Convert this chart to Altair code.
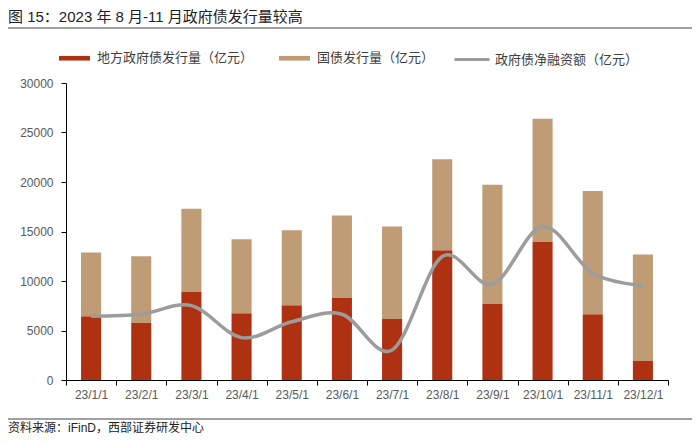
import altair as alt
import pandas as pd

months = ["23/1/1", "23/2/1", "23/3/1", "23/4/1", "23/5/1", "23/6/1",
          "23/7/1", "23/8/1", "23/9/1", "23/10/1", "23/11/1", "23/12/1"]
local_bonds = [6440, 5760, 8900, 6740, 7550, 8290, 6170, 13110, 7680, 13950, 6640, 1920]
treasury_bonds = [6430, 6740, 8390, 7480, 7580, 8320, 9330, 9200, 12030, 12440, 12440, 10750]
net_financing = [6450, 6640, 7510, 4280, 5890, 6640, 3030, 12470, 9680, 15500, 10790, 9530]
y_ticks = [0, 5000, 10000, 15000, 20000, 25000, 30000]

s_local = "地方政府债发行量（亿元）"
s_treas = "国债发行量（亿元）"
s_net = "政府债净融资额（亿元）"
title_text = "图 15：2023 年 8 月-11 月政府债发行量较高"
source_text = "资料来源：iFinD，西部证券研发中心"

RED = "#AE3212"
TAN = "#BF9B76"
GRAY = "#9C9C9C"
LAT = "Liberation Sans, Noto Sans CJK SC"
CJK = "Noto Sans CJK SC"

bars_df = pd.DataFrame({
    "month": months * 2,
    "series": [s_local] * len(months) + [s_treas] * len(months),
    "value": local_bonds + treasury_bonds,
    "order": [0] * len(months) + [1] * len(months),
})
line_df = pd.DataFrame({"month": months, "series": [s_net] * len(months), "value": net_financing})

x_enc = alt.X(
    "month:N", sort=months, title=None,
    scale=alt.Scale(paddingInner=0, paddingOuter=0),
    axis=alt.Axis(labelAngle=0, tickBand="extent", tickSize=5, tickColor="#000000",
                  domainColor="#000000", domainWidth=1, labelColor="#595959",
                  labelFont=LAT, labelFontSize=12, labelPadding=4),
)
y_scale = alt.Scale(domain=[0, 30000], nice=False)
y_axis = alt.Axis(values=y_ticks, tickSize=5, tickColor="#000000", domainColor="#000000",
                  domainWidth=1, labelColor="#595959", labelFont=LAT, labelFontSize=12,
                  labelPadding=8, grid=False, format="d")

bars = alt.Chart(bars_df).mark_bar(width={"band": 0.4}).encode(
    x=x_enc,
    y=alt.Y("value:Q", stack="zero", scale=y_scale, axis=y_axis, title=None),
    color=alt.Color(
        "series:N",
        scale=alt.Scale(domain=[s_local, s_treas], range=[RED, TAN]),
        legend=alt.Legend(orient="none", legendX=-7, legendY=-40.5, direction="horizontal",
                          title=None, symbolType="M-1,-0.15L1,-0.15L1,0.15L-1,0.15Z",
                          symbolSize=961, symbolStrokeWidth=0, labelFont=CJK,
                          labelFontSize=13, labelColor="#404040", labelOffset=7,
                          columnPadding=25, padding=0, labelLimit=400),
    ),
    order=alt.Order("order:Q"),
)

line = alt.Chart(line_df).mark_line(interpolate="cardinal", strokeWidth=3.5).encode(
    x=x_enc,
    y=alt.Y("value:Q", scale=y_scale, axis=y_axis, title=None),
    stroke=alt.Stroke(
        "series:N",
        scale=alt.Scale(domain=[s_net], range=[GRAY]),
        legend=alt.Legend(orient="none", legendX=387, legendY=-42.5, direction="horizontal",
                          title=None, symbolType="stroke", symbolSize=1225,
                          symbolStrokeWidth=3, labelFont=CJK, labelFontSize=13,
                          labelColor="#404040", labelOffset=4, padding=0, labelLimit=400),
    ),
)

title_mark = alt.Chart(pd.DataFrame({"t": [title_text]})).mark_text(
    align="left", baseline="middle", font=LAT, fontSize=15, color="#222222"
).encode(text="t:N", x=alt.value(-58), y=alt.value(-66))

title_rule = alt.Chart(pd.DataFrame({"t": [0]})).mark_rule(color="#808080", strokeWidth=1.5).encode(
    x=alt.value(-58), x2=alt.value(626), y=alt.value(-55))

source_rule = alt.Chart(pd.DataFrame({"t": [0]})).mark_rule(color="#808080", strokeWidth=1.5).encode(
    x=alt.value(-58), x2=alt.value(626), y=alt.value(336))

source_mark = alt.Chart(pd.DataFrame({"t": [source_text]})).mark_text(
    align="left", baseline="middle", font=LAT, fontSize=12, color="#222222"
).encode(text="t:N", x=alt.value(-58), y=alt.value(345))

chart = alt.layer(bars, line, title_mark, title_rule, source_rule, source_mark).resolve_scale(
    color="independent"
).properties(
    width=602, height=297,
    autosize=alt.AutoSizeParams(type="none"),
    padding={"left": 58, "top": 75, "right": 24, "bottom": 54},
).configure_view(stroke=None)

chart.save("out.html", embed_options={"renderer": "svg", "actions": False})
